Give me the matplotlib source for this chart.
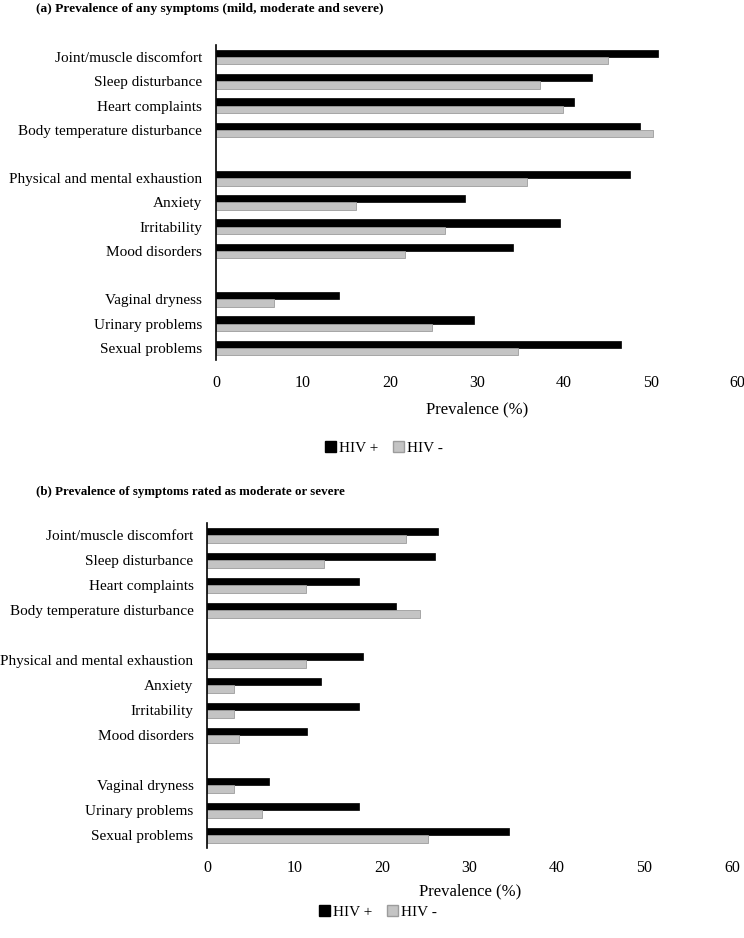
import numpy as np
import matplotlib.pyplot as plt
from matplotlib.patches import Patch

plt.rcParams['font.family'] = ['Liberation Serif', 'DejaVu Serif']

# Symptom categories, grouped (blank slot between groups)
groups = [
    ['Joint/muscle discomfort', 'Sleep disturbance', 'Heart complaints',
     'Body temperature disturbance'],
    ['Physical and mental exhaustion', 'Anxiety', 'Irritability', 'Mood disorders'],
    ['Vaginal dryness', 'Urinary problems', 'Sexual problems'],
]

# (a) any symptoms
any_hiv_pos = [50.8, 43.3, 41.2, 48.8, 47.6, 28.7, 39.6, 34.2, 14.2, 29.7, 46.6]
any_hiv_neg = [45.1, 37.3, 39.9, 50.3, 35.8, 16.1, 26.4, 21.7, 6.7, 24.8, 34.7]

# (b) moderate or severe
mod_hiv_pos = [26.4, 26.0, 17.3, 21.6, 17.8, 13.0, 17.3, 11.4, 7.1, 17.3, 34.5]
mod_hiv_neg = [22.7, 13.4, 11.3, 24.3, 11.3, 3.1, 3.1, 3.6, 3.1, 6.2, 25.2]

xticks = [0, 10, 20, 30, 40, 50, 60]

# y slot for each category, leaving an empty slot between groups
labels = []
ypos = []
slot = 0
for g in groups:
    for name in g:
        labels.append(name)
        ypos.append(slot)
        slot += 1
    slot += 1
ypos = np.array(ypos)
n_slots = slot - 1

BLACK = '#000000'
GRAY = '#c4c4c4'
h = 0.3


def draw_panel(ax, pos, neg, xpad, lpad):
    ax.barh(ypos - h / 2, pos, height=h, color=BLACK, edgecolor=BLACK, linewidth=0.5)
    ax.barh(ypos + h / 2, neg, height=h, color=GRAY, edgecolor='#9c9c9c', linewidth=0.6)
    ax.set_ylim(n_slots - 0.5, -0.5)
    ax.set_xlim(0, 60)
    ax.set_xticks(xticks)
    ax.set_yticks(ypos)
    ax.set_yticklabels(labels)
    for s in ['top', 'right', 'bottom']:
        ax.spines[s].set_visible(False)
    ax.spines['left'].set_linewidth(1.2)
    ax.tick_params(axis='y', length=0, pad=10, labelsize=11)
    ax.tick_params(axis='x', length=0, pad=xpad, labelsize=11.5)
    ax.set_xlabel('Prevalence (%)', fontsize=12, labelpad=lpad)


fig = plt.figure(figsize=(7.44, 9.38), dpi=100)
ax1 = fig.add_axes([216 / 744, 1 - 360 / 938, (737.5 - 216) / 744, (360 - 45) / 938])
ax2 = fig.add_axes([207.3 / 744, 1 - 847.5 / 938, (732 - 207.3) / 744, (847.5 - 522.5) / 938])

draw_panel(ax1, any_hiv_pos, any_hiv_neg, 11, 7)
draw_panel(ax2, mod_hiv_pos, mod_hiv_neg, 9, 5)

fig.text(36 / 744, 1 - 9 / 938, '(a) Prevalence of any symptoms (mild, moderate and severe)',
         fontsize=9.7, fontweight='bold', va='center', ha='left')
fig.text(36 / 744, 1 - 492 / 938, '(b) Prevalence of symptoms rated as moderate or severe',
         fontsize=9.3, fontweight='bold', va='center', ha='left')

handles = [Patch(facecolor=BLACK, edgecolor=BLACK, label='HIV +'),
           Patch(facecolor=GRAY, edgecolor='#9c9c9c', label='HIV -')]
for yc, xc in [(448, 384), (912, 378)]:
    fig.legend(handles=handles, loc='center', bbox_to_anchor=(xc / 744, 1 - yc / 938),
               ncol=2, frameon=False, fontsize=11, handlelength=0.7, handleheight=0.7,
               handletextpad=0.2, columnspacing=1.0)

fig.savefig('out.png', dpi=100)
